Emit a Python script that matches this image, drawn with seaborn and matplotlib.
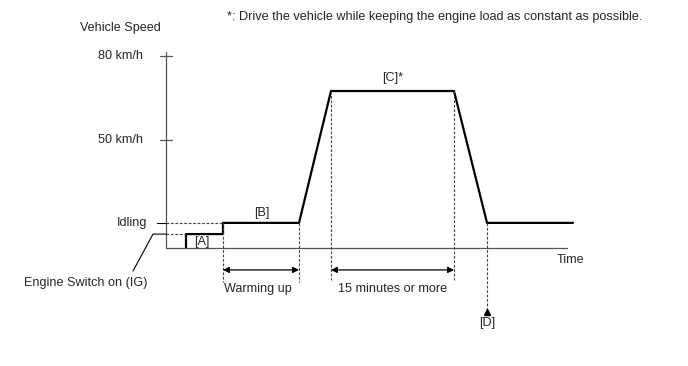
import matplotlib
matplotlib.use("Agg")
import matplotlib.pyplot as plt
import seaborn as sns
import pandas as pd

# Vehicle speed profile (time in schematic units, speed in km/h)
profile_time = [2.0, 2.0, 5.7, 5.7, 13.3, 16.5, 28.8, 32.1, 40.7]
profile_speed = [11.4, 16.4, 16.4, 20.4, 20.4, 67.5, 67.5, 20.4, 20.4]

# Reference levels
speed_ticks = [50, 80]
tick_labels = ["50 km/h", "80 km/h"]
axis_floor = 11.4
idle_speed = 20.4
ig_speed = 16.4
cruise_speed = 67.5

# Phase boundaries
warm_start, warm_end = 5.7, 13.3
cruise_start, cruise_end = 16.5, 28.8
stop_time = 32.1
time_end = 40.1

sns.set_style("white")
plt.rcParams["font.family"] = ["Liberation Sans", "DejaVu Sans"]
fs = 9.1

fig = plt.figure(figsize=(6.88, 3.66), dpi=100)
ax = fig.add_axes([0, 0, 1, 1])
ax.set_xlim(-16.6, 52.2)
ax.set_ylim(-30.714, 100)
ax.axis("off")

df = pd.DataFrame({"t": profile_time, "v": profile_speed})
sns.lineplot(data=df, x="t", y="v", sort=False, estimator=None,
             color="black", lw=1.6, ax=ax)

gray = "#555555"
# axes
ax.plot([0, 0], [axis_floor, 81.4], color=gray, lw=0.9)
ax.plot([0, time_end], [axis_floor, axis_floor], color=gray, lw=0.9)
for v, lab in zip(speed_ticks, tick_labels):
    ax.plot([-0.6, 0.6], [v, v], color=gray, lw=0.9)
    ax.text(-2.3, v, lab, ha="right", va="center", fontsize=fs)

dash = dict(color="#444444", lw=0.8, ls=(0, (2.5, 1.5)))
# horizontal reference dashes
ax.plot([-0.9, 0], [idle_speed, idle_speed], color="black", lw=0.8)
ax.plot([0, warm_start], [idle_speed, idle_speed], **dash)
ax.plot([0, 2.0], [ig_speed, ig_speed], **dash)
# leader for engine switch
ax.plot([-3.3, -1.3, 0], [3.2, ig_speed, ig_speed], color="black", lw=0.8)

# vertical dashes
for t in [warm_start, warm_end]:
    ax.plot([t, t], [idle_speed, -0.7], **dash)
for t in [cruise_start, cruise_end]:
    ax.plot([t, t], [cruise_speed, 0], **dash)
ax.plot([stop_time, stop_time], [idle_speed, -11.0], **dash)
ax.plot([stop_time], [-11.6], marker="^", color="black", ms=4.5)

# double arrows
arrow = dict(arrowstyle="<|-|>", color="black", lw=0.9, mutation_scale=9,
             shrinkA=0, shrinkB=0)
ax.annotate("", xy=(warm_start, 3.6), xytext=(warm_end, 3.6), arrowprops=arrow)
ax.annotate("", xy=(cruise_start, 3.6), xytext=(cruise_end, 3.6), arrowprops=arrow)

# labels
ax.text(-8.6, 90, "Vehicle Speed", ha="left", va="center", fontsize=fs)
ax.text(6.1, 93.9, "*: Drive the vehicle while keeping the engine load as constant as possible.",
        ha="left", va="center", fontsize=fs)
ax.text(-1.9, idle_speed, "Idling", ha="right", va="center", fontsize=fs)
ax.text(-8.0, -1.1, "Engine Switch on (IG)", ha="center", va="center", fontsize=fs)
ax.text(3.6, 13.6, "[A]", ha="center", va="center", fontsize=fs)
ax.text(9.6, 23.9, "[B]", ha="center", va="center", fontsize=fs)
ax.text(22.7, 72.1, "[C]*", ha="center", va="center", fontsize=fs)
ax.text(40.5, 7.1, "Time", ha="center", va="center", fontsize=fs)
ax.text(stop_time, -15.2, "[D]", ha="center", va="center", fontsize=fs)
ax.text(9.2, -3.2, "Warming up", ha="center", va="center", fontsize=fs)
ax.text(22.7, -3.2, "15 minutes or more", ha="center", va="center", fontsize=fs)

fig.savefig("out.png", dpi=100)
